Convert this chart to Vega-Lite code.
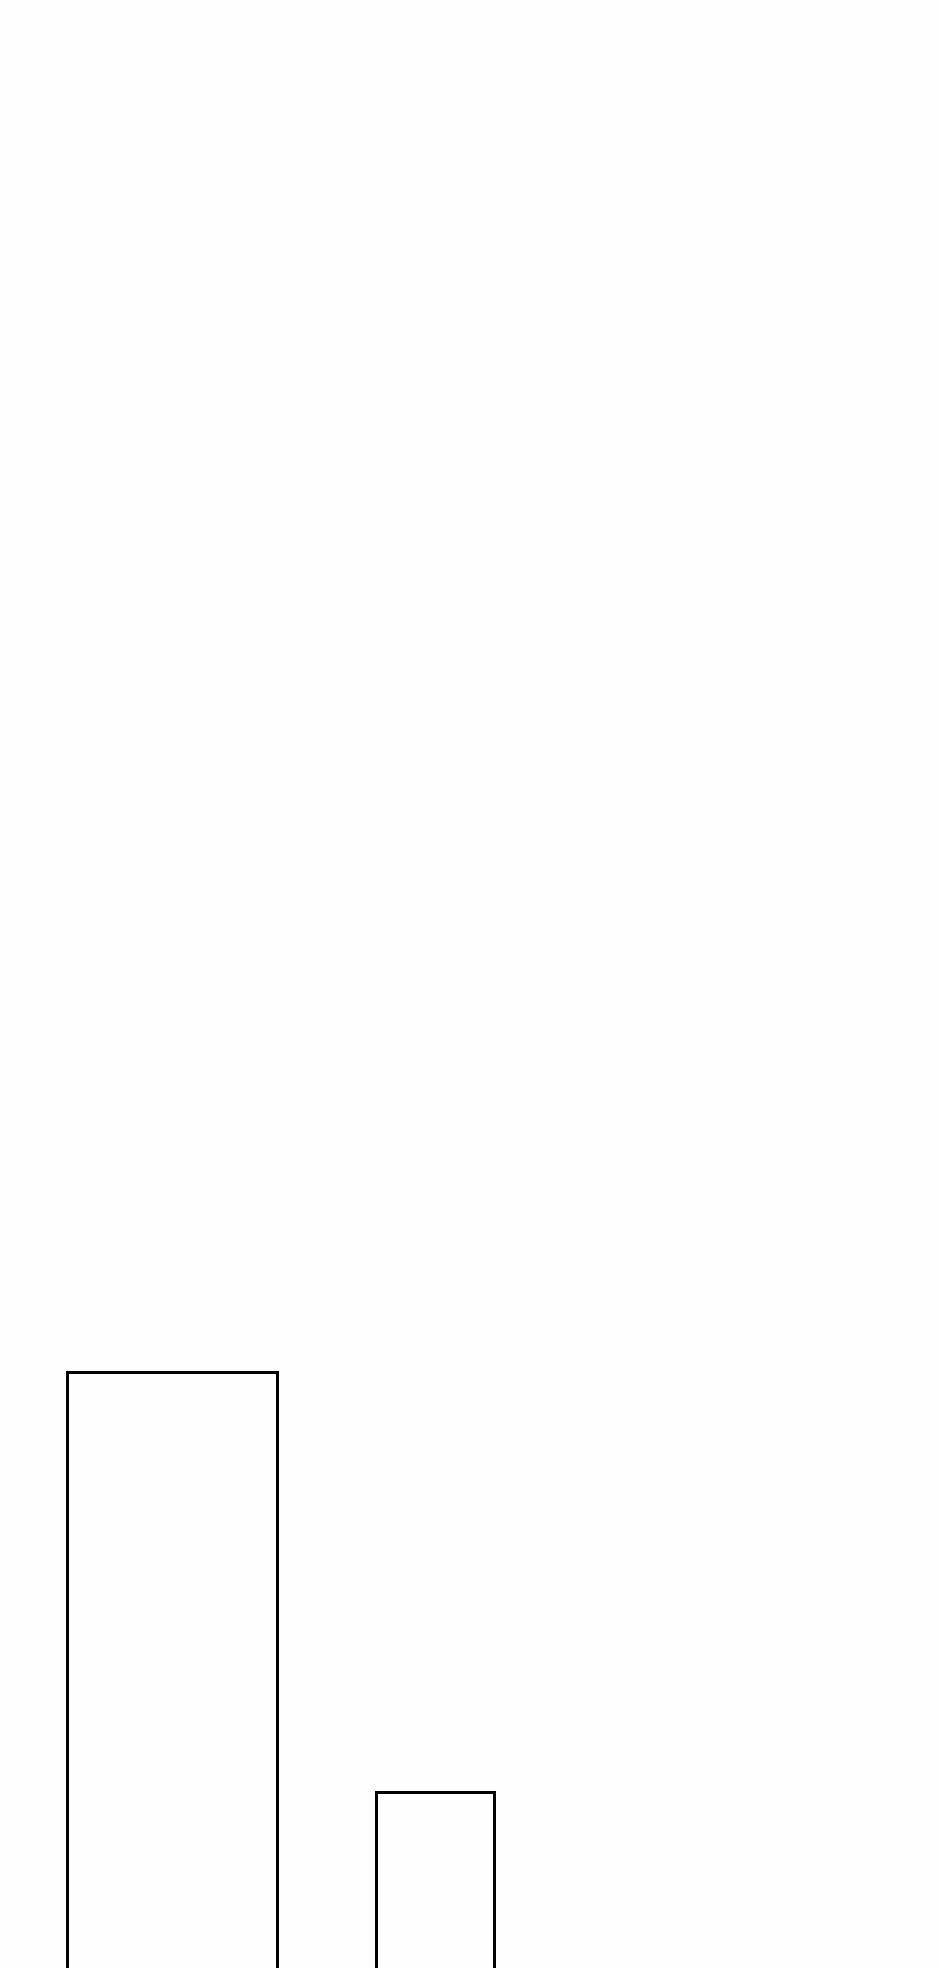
{
  "$schema": "https://vega.github.io/schema/vega-lite/v6.json",
  "width": 940,
  "height": 1968,
  "padding": 0,
  "autosize": {"type": "none"},
  "background": "#fefefe",
  "config": {"view": {"stroke": null}},
  "data": {
    "values": [
      {"start": 6.75, "end": 27.75, "value": 60},
      {"start": 37.65, "end": 49.45, "value": 18}
    ]
  },
  "mark": {"type": "bar", "filled": false, "stroke": "black", "strokeWidth": 3, "clip": true, "cornerRadius": 0},
  "encoding": {
    "x": {"field": "start", "type": "quantitative", "scale": {"domain": [0, 94], "nice": false, "zero": false}, "axis": null},
    "x2": {"field": "end"},
    "y": {"field": "value", "type": "quantitative", "scale": {"domain": [0.45, 197.25], "nice": false, "zero": false}, "axis": null},
    "y2": {"datum": 0}
  }
}
